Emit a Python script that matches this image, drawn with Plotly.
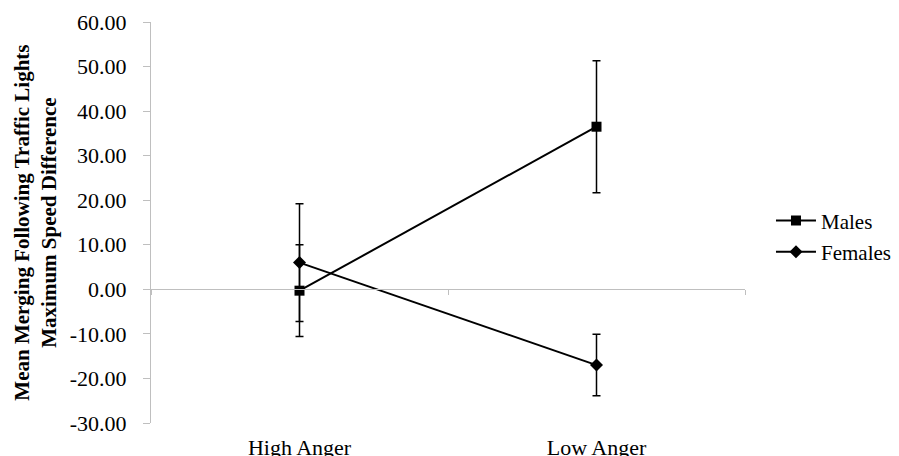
import plotly.graph_objects as go

# values
conditions = ["High Anger", "Low Anger"]
males = [-0.3, 36.5]
males_err = [10.3, 14.8]
females = [6.0, -17.0]
females_err = [13.2, 6.9]

y_ticks = [-30, -20, -10, 0, 10, 20, 30, 40, 50, 60]
y_tick_text = ["-30.00", "-20.00", "-10.00", "0.00", "10.00",
               "20.00", "30.00", "40.00", "50.00", "60.00"]

serif = "'Liberation Serif', 'Times New Roman', serif"

fig = go.Figure()

# invisible trace so the zero-line category axis gets its ticks
fig.add_trace(go.Scatter(x=conditions, y=[0, 0], xaxis="x2", mode="markers",
                         marker=dict(opacity=0), showlegend=False,
                         hoverinfo="skip"))

fig.add_trace(go.Scatter(
    x=conditions, y=males, name="Males", legend="legend",
    mode="lines+markers",
    line=dict(color="black", width=2),
    marker=dict(symbol="square", size=10, color="black"),
    error_y=dict(type="data", array=males_err, color="black",
                 thickness=1.5, width=4),
))
fig.add_trace(go.Scatter(
    x=conditions, y=females, name="Females", legend="legend2",
    mode="lines+markers",
    line=dict(color="black", width=2),
    marker=dict(symbol="diamond", size=10, color="black"),
    error_y=dict(type="data", array=females_err, color="black",
                 thickness=1.5, width=4),
))

leg = dict(xref="container", x=0.8576, xanchor="left", yanchor="middle",
           itemwidth=40, font=dict(size=21), bgcolor="rgba(0,0,0,0)")

fig.update_layout(
    width=899, height=456,
    margin=dict(l=151, r=154, t=22, b=33),
    paper_bgcolor="white", plot_bgcolor="white",
    font=dict(family=serif, size=22, color="black"),
    xaxis=dict(type="category", categoryarray=conditions, range=[-0.5, 1.5],
               showline=False, showgrid=False, zeroline=False, automargin=False,
               ticks="outside", ticklen=5, tickcolor="rgba(0,0,0,0)"),
    xaxis2=dict(type="category", categoryarray=conditions, range=[-0.5, 1.5],
                overlaying="x", anchor="free", position=1 / 3,
                showline=True, linecolor="#bfbfbf", linewidth=1,
                ticks="outside", tickson="boundaries", ticklen=5,
                tickcolor="#bfbfbf", showticklabels=False, showgrid=False),
    yaxis=dict(range=[-30, 60], tickvals=y_ticks, ticktext=y_tick_text,
               showline=True, linecolor="#bfbfbf", linewidth=1,
               ticks="outside", ticklen=7, tickcolor="#bfbfbf",
               ticklabelstandoff=12, automargin=False,
               showgrid=False, zeroline=False),
    legend=dict(leg, y=0.504),
    legend2=dict(leg, y=0.426),
    annotations=[dict(
        text="<b>Mean Merging Following Traffic Lights<br>Maximum Speed Difference</b>",
        xref="paper", yref="paper", x=-0.195, y=0.5,
        xanchor="center", yanchor="middle", textangle=-90,
        showarrow=False, font=dict(size=21),
    )],
)

fig.write_html("out.html", config={"displayModeBar": False},
               post_script="document.body.style.margin='0';")
